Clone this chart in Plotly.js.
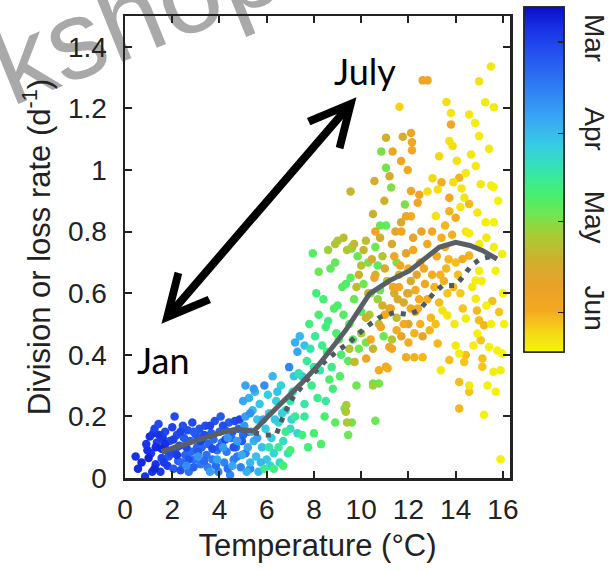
<!DOCTYPE html>
<html>
<head>
<meta charset="utf-8">
<script src="https://cdn.plot.ly/plotly-3.0.1.min.js"></script>
<style>
  html, body { margin: 0; padding: 0; background: #fff; }
  #chart { width: 612px; height: 570px; }
</style>
</head>
<body>
<div id="chart"></div>
<script>
// Daily division/loss rates against water temperature, coloured by sampling date
// (day of year). Each group: temperature (°C), rate (d^-1), day of year.

// early March
const tempA = [0.45,0.55,0.85,0.9,1.05,1.1,1.2,1.25,1.3,1.35, 1.42,1.5,1.55,1.6,1.7,1.75,1.8,1.85,1.9,2.0, 2.05,2.1,2.15,2.2,2.25,2.3,2.4,2.45,2.5,2.55, 2.65,2.7,2.75,2.8,2.85,2.95,3.0,3.05,3.15,3.2, 3.25,3.3,3.4,3.45,3.5,3.55,3.65,3.7,3.75,3.8, 3.9,3.95,4.0,4.05,4.1,4.2,4.25,4.3,4.4,4.45, 4.5,4.6,4.65,4.7,4.8,4.85,4.9,5.0,5.1];
const rateA = [0.07,0.03,0.005,0.11,0.135,0.08,0.145,0.16,0.045,0.115, 0.175,0.02,0.065,0.13,0.15,0.09,0.04,0.07,0.12,0.165, 0.03,0.2,0.095,0.14,0.055,0.105,0.05,0.17,0.13,0.075, 0.155,0.02,0.12,0.085,0.18,0.06,0.14,0.1,0.16,0.045, 0.1,0.125,0.17,0.075,0.035,0.11,0.145,0.06,0.125,0.185, 0.09,0.02,0.15,0.2,0.115,0.05,0.155,0.085,0.18,0.01, 0.13,0.06,0.185,0.1,0.16,0.19,0.035,0.14,0.08];
const dayA  = [55,54,56,57,55,58,56,60,57,59, 62,58,60,57,61,63,59,64,62,60, 66,62,65,63,68,61,70,64,66,69, 63,72,67,70,62,73,65,68,64,74, 70,66,63,72,75,69,67,74,71,64, 73,76,68,66,72,77,70,74,66,78, 71,76,62,73,68,60,77,70,75];

// March, second batch
const tempB = [0.7,0.95,1.15,1.3,1.45,1.65,1.7,1.95,2.05,2.35, 2.35,2.6,2.9,2.9,3.1,3.35,3.35,3.6,3.85,4.0, 4.15,4.35,4.55,4.75,4.95,5.2,5.3,1.0,1.25,1.55, 2.2,2.7,3.2,3.7,4.25,4.6];
const rateB = [0.05,0.09,0.02,0.1,0.14,0.05,0.11,0.08,0.125,0.15, 0.025,0.1,0.15,0.035,0.085,0.055,0.14,0.17,0.04,0.1, 0.17,0.03,0.15,0.07,0.12,0.15,0.03,0.065,0.03,0.095, 0.075,0.06,0.12,0.095,0.125,0.1];
const dayB  = [53,55,57,54,56,58,55,61,59,60, 63,61,66,68,65,70,62,60,71,66, 63,72,65,74,66,68,78,52,53,53, 58,64,59,62,61,64];

// late March - April
const tempC = [2.6,3.1,3.6,3.9,4.15,4.35,4.55,4.75,4.95,5.05, 5.1,5.15,5.2,5.25,5.3,5.35,5.4,5.45,5.5,5.55, 5.6,5.65,5.7,5.8,5.9,5.95,6.0,6.05,6.1,6.2, 6.25,6.3,6.4,6.5,6.55,6.6,6.7,6.8,6.95,7.0, 7.1,7.2,7.3,7.3,7.4,7.5,7.6, 5.1,5.3,5.6,5.75,5.85,6.15,6.35,6.45,6.65,6.9, 7.05,7.15,5.45,5.0];
const rateC = [0.04,0.07,0.02,0.06,0.1,0.13,0.04,0.12,0.075,0.17, 0.3,0.02,0.1,0.26,0.05,0.15,0.22,0.12,0.28,0.07, 0.19,0.02,0.24,0.1,0.3,0.16,0.06,0.27,0.21,0.13, 0.33,0.08,0.25,0.18,0.05,0.3,0.12,0.22,0.36,0.16, 0.28,0.44,0.145,0.41,0.46,0.33,0.43, 0.2,0.21,0.13,0.05,0.19,0.04,0.19,0.28,0.21,0.08, 0.19,0.33,0.29,0.25];
const dayC  = [80,82,84,85,83,81,86,84,87,82, 85,88,86,89,90,88,91,87,90,92, 93,89,94,92,80,95,93,96,97,95, 90,98,96,99,100,97,100,98,78,100, 99,88,97,86,90,95,92, 84,80,84,90,86,98,94,92,96,102, 98,93,83,86];

// April - early May
const tempD = [5.9,6.1,6.3,6.5,6.7,6.8,7.0,7.0,7.2,7.35, 7.5,7.6,7.7,7.8,7.9,7.95,8.0,8.05,8.1,8.2, 8.25,8.3,8.35,8.4,8.5,8.55,8.6,8.7,8.75,8.8, 8.9,8.95,9.0,9.1,9.15,9.2,9.3,9.35,9.45,9.5, 9.6,9.65,9.7,9.8,9.85,10.0,10.2,10.4,10.5,10.6, 10.75,10.8,10.85,11.05,10.95,11.05,10.8,11.27,11.85,12.0, 11.5,8.9,9.6, 7.6,7.75,7.85,8.0,8.15,8.2,8.45,8.5,8.65,8.85, 9.05,9.25,9.45,9.55,9.9,10.1,10.3,10.6,10.7];
const rateD = [0.03,0.1,0.03,0.1,0.04,0.15,0.25,0.09,0.2,0.34, 0.14,0.24,0.38,0.5,0.3,0.73,0.145,0.46,0.6,0.53, 0.35,0.11,0.43,0.58,0.25,0.41,0.51,0.68,0.36,0.29, 0.18,0.47,0.56,0.33,0.4,0.62,0.226,0.63,0.14,0.5, 0.18,0.45,0.58,0.3,0.72,0.54,0.44,0.6,0.307,0.186, 0.307,0.61,1.06,1.007,0.46,0.82,0.82,0.943,0.888,0.6, 0.7,0.7,0.745, 0.2,0.1,0.42,0.36,0.26,0.67,0.2,0.49,0.32,0.55, 0.45,0.53,0.38,0.65,0.42,0.63,0.7,0.75,0.69];
const dayD  = [108,104,110,106,112,108,104,111,106,102, 110,104,106,110,108,114,112,107,110,112, 104,113,108,111,106,112,109,116,108,110, 115,113,111,114,112,115,116,113,118,115, 119,114,117,118,118,116,119,118,117,118, 119,117,120,119,118,116,117,121,120,120, 119,117,118, 106,110,104,106,108,118,112,110,113,114, 116,114,117,116,118,118,119,118,116];

// May
const tempE = [8.6,8.9,9.0,9.25,9.4,9.55,9.6,9.7,9.8,9.9, 10.0,10.1,10.2,10.3,10.35,10.45,10.5,10.56,10.6,10.7, 10.75,10.8,10.9,10.98,11.1,11.2,11.2,11.3,11.3,11.4, 11.5,11.6,11.69,11.76,11.05,11.8,11.9,12.0,12.1,12.2, 12.3,12.5,12.6,9.37,9.35,9.4,10.5,9.72,9.5,10.0, 10.2,10.5,10.9,11.0,11.45,11.55,11.7,11.95,12.35,12.55];
const rateE = [0.74,0.76,0.77,0.78,0.74,0.93,0.75,0.76,0.62,0.66, 0.69,0.74,0.77,0.6,0.53,0.71,0.857,0.964,0.66,0.58, 0.5,0.78,0.72,0.9,0.64,0.98,0.55,0.45,0.76,0.6, 0.52,0.66,0.83,1.108,1.105,0.57,0.73,0.5,0.64,0.78, 0.54,0.7,0.46,0.237,0.215,0.18,0.3,0.377,0.42,0.47, 0.52,0.42,0.56,0.68,0.8,0.58,0.46,0.6,0.66,0.8];
const dayE  = [124,128,126,130,127,132,125,131,130,134, 128,132,130,134,126,136,134,138,132,124, 130,135,128,134,130,136,133,127,138,136, 131,134,137,136,134,138,140,139,137,140, 141,142,140,125,128,126,124,131,128,126, 135,132,136,139,140,138,141,140,142,141];

// late May - early June
const tempF = [10.21,10.4,10.56,10.6,10.75,10.83,11.0,11.05,11.12,11.19, 11.33,11.3,11.4,11.5,11.6,11.69,11.7,11.8,11.9,11.97, 12.0,12.1,12.11,12.15,12.15,12.11,12.11,12.2,12.25,12.3, 12.39,12.4,12.46,12.5,12.6,12.6,12.81,12.7,12.8,12.8, 12.9,13.0,13.0,13.1,13.2,13.24,13.3,13.4,13.5,13.6, 13.73,13.73,13.73,13.8,13.9,14.0,14.0,14.15,14.15,14.15, 14.29,14.36,14.43,14.57,14.57,14.57,14.9,14.99,15.06,15.13, 15.13,15.2,15.55,15.84,13.65,14.2, 11.25,11.35,11.65,11.9,12.0,12.25,12.45,12.65,12.95,13.15, 13.35,13.55,13.7,13.85,13.4,13.55,14.1,14.3];
const rateF = [0.388,0.45,0.65,0.8,0.35,0.49,0.53,0.361,0.356,0.425, 1.06,0.42,0.72,0.48,0.62,1.029,0.8,0.5,0.392,1.0, 0.68,0.55,1.12,1.09,1.064,0.932,0.85,0.74,0.392,0.61, 0.894,0.55,0.92,0.5,0.392,1.291,1.291,0.63,0.58,0.76, 0.48,0.66,0.8,0.62,0.72,0.437,0.57,0.78,0.64,0.68, 0.91,0.866,0.383,1.148,0.62,0.845,0.7,0.975,0.312,0.226, 0.711,0.377,0.399,0.722,0.89,0.28,0.544,0.512,0.447,0.388, 0.361,0.496,0.575,0.539,0.6,0.6, 0.55,0.62,0.69,0.85,0.44,0.47,0.58,0.68,0.52,0.5, 0.66,0.75,0.71,0.79,0.96,0.82,0.66,0.55];
const dayF  = [146,150,148,146,152,149,151,150,152,148, 147,149,150,152,151,148,149,151,152,150, 152,150,146,149,151,150,152,151,153,152, 149,151,148,153,154,147,149,150,152,151, 154,152,150,153,151,154,155,152,153,154, 150,153,155,148,154,152,155,153,155,154, 152,156,155,153,154,156,154,155,156,155, 156,154,155,156,156,157, 146,148,150,149,152,153,152,151,154,155, 153,152,154,153,152,154,155,156];

// mid June
const tempG = [11.62,12.81,13.02,13.16,13.24,13.3,13.44,13.37,13.61,13.65, 13.73,13.8,13.87,14.0,14.15,14.2,14.37,14.43,14.43,14.43, 14.57,14.57,14.57,14.82,14.85,14.85,14.85,14.92,14.92,14.99, 14.99,14.99,15.0,15.06,15.2,15.27,15.3,15.41,15.41,15.49, 15.5,15.6,15.6,15.62,15.62,15.62,15.69,15.76,15.9,15.9, 15.97,15.97,16.0,16.05, 13.9,14.05,14.25,14.7,15.1,15.3,15.5,15.7,15.35,14.75, 13.95,14.65,15.8,15.25];
const rateG = [1.205,0.93,0.973,0.851,0.937,1.045,0.544,0.35,1.221,0.528, 1.094,1.185,1.078,0.43,0.404,0.88,0.91,0.99,0.8,0.518, 0.795,1.18,0.3,1.153,1.013,0.641,0.582,0.862,0.469,1.288, 1.11,0.673,0.76,0.954,0.205,0.83,0.78,1.069,0.425,1.336, 0.95,0.945,0.345,1.204,0.83,0.75,0.673,0.414,0.35,0.061, 0.727,0.404,0.6,0.5, 0.96,1.03,0.94,0.62,0.64,0.56,0.5,0.28,0.3,0.43, 0.5,1.05,0.9,1.22];
const dayG  = [158,160,159,161,160,159,162,163,160,162, 161,162,160,163,164,162,161,163,162,164, 163,162,163,164,163,164,163,162,165,161, 163,164,163,162,165,164,163,163,165,162, 164,165,164,163,165,164,165,165,164,165, 164,165,165,165, 160,161,162,163,164,165,164,165,165,164, 163,162,165,163];

// Binned mean rates (solid) and binned loss rates (dotted)
const meanTemp = [1.55,2.8,4.2,4.8,5.45,6.05,6.9,7.5,8.25,9.35,10.35,11.2,12.05,12.75,13.3,14.0,14.6,15.15,15.75];
const meanRate = [0.086,0.118,0.15,0.158,0.152,0.2,0.264,0.31,0.372,0.48,0.598,0.641,0.673,0.716,0.749,0.765,0.755,0.738,0.711];
const lossTemp = [1.55,2.8,4.2,4.8,5.45,5.9,6.4,6.75,7.1,7.7,8.45,8.95,9.5,10.2,10.8,11.4,12.0,12.45,12.75,13.1,13.45,14.0,14.35,14.65,15.05,15.65];
const lossRate = [0.086,0.118,0.15,0.158,0.145,0.14,0.14,0.21,0.26,0.318,0.377,0.41,0.44,0.49,0.522,0.537,0.53,0.545,0.571,0.603,0.625,0.625,0.657,0.69,0.711,0.722];

// Axis ticks and colour-bar month markers (day of year of the 1st)
const xTicks = [0,2,4,6,8,10,12,14,16];
const yTicks = [0,0.2,0.4,0.6,0.8,1,1.2,1.4];
const yTickText = ['0','0.2','0.4','0.6','0.8','1','1.2','1.4'];
const monthDays = [60,91,121,152];
const monthNames = ['Mar','Apr','May','Jun'];
const dayRange = [48,165.5];

const temps = [].concat(tempA,tempB,tempC,tempD,tempE,tempF,tempG);
const rates = [].concat(rateA,rateB,rateC,rateD,rateE,rateF,rateG);
const days  = [].concat(dayA,dayB,dayC,dayD,dayE,dayF,dayG);

// Colour bar runs early (top) to late (bottom): colour by negated day
const dateScale = [
  [0,'#f4f40c'],[0.05,'#f5dc14'],[0.12,'#f4a820'],[0.2,'#e8a22a'],[0.28,'#c8b42e'],
  [0.34,'#a8cc34'],[0.4,'#6ee650'],[0.46,'#44f070'],[0.53,'#34e4b0'],[0.6,'#36cce4'],
  [0.67,'#38aaf2'],[0.76,'#3080f4'],[0.86,'#2454f0'],[0.94,'#1830e4'],[1,'#0a10c4']
];

// shared colour bar geometry (fractions of the plot area)
const barBase = {
  x: 1.036, xanchor: 'left', y: 1.0195, yanchor: 'top',
  len: 0.747, lenmode: 'fraction', thickness: 40, thicknessmode: 'pixels',
  xpad: 0, ypad: 0, outlinewidth: 1.5, outlinecolor: '#222', borderwidth: 0,
  tickmode: 'array', tickvals: monthDays.map(d => -d)
};

const points = {
  type: 'scatter', mode: 'markers', x: temps, y: rates, hoverinfo: 'skip',
  marker: {
    size: 8.5, color: days.map(d => -d), colorscale: dateScale,
    cmin: -dayRange[1], cmax: -dayRange[0], line: {width: 0},
    // month names, set off from the bar
    colorbar: Object.assign({}, barBase, {
      ticktext: monthNames, ticks: 'outside', ticklen: 10, tickcolor: 'rgba(0,0,0,0)',
      tickangle: 90, tickfont: {size: 28, color: '#222'}
    })
  }
};
// second bar on top carrying the short inward month ticks
const monthTicks = {
  type: 'scatter', mode: 'markers', x: [null], y: [null], hoverinfo: 'skip',
  marker: {
    color: [-monthDays[0]], colorscale: dateScale,
    cmin: -dayRange[1], cmax: -dayRange[0],
    colorbar: Object.assign({}, barBase, {
      showticklabels: false, ticks: 'inside', ticklen: 6, tickwidth: 1.5, tickcolor: '#222'
    })
  }
};
const lossLine = {
  type: 'scatter', mode: 'lines', x: lossTemp, y: lossRate, hoverinfo: 'skip',
  line: {color: '#4e5a63', width: 5, dash: '5px,7px'}
};
const meanLine = {
  type: 'scatter', mode: 'lines', x: meanTemp, y: meanRate, hoverinfo: 'skip',
  line: {color: '#596065', width: 5}
};

const axisStyle = {
  showline: true, linecolor: '#222', linewidth: 2.5, mirror: 'ticks',
  ticks: 'inside', ticklen: 7, tickwidth: 2, tickcolor: '#222',
  showgrid: false, zeroline: false, tickfont: {size: 28, color: '#222'}
};

const layout = {
  width: 612, height: 570,
  margin: {l: 125, r: 102, t: 16, b: 92, pad: 0, autoexpand: false},
  paper_bgcolor: '#fff', plot_bgcolor: '#fff',
  font: {family: '"Liberation Sans", Arial, sans-serif', color: '#222'},
  showlegend: false,
  xaxis: Object.assign({}, axisStyle, {
    range: [0, 16.3], tickmode: 'array', tickvals: xTicks, ticklabelstandoff: 5,
    title: {text: 'Temperature (°C)', font: {size: 31, color: '#222'}, standoff: 10}
  }),
  yaxis: Object.assign({}, axisStyle, {
    range: [0, 1.5], tickmode: 'array', tickvals: yTicks, ticktext: yTickText, ticklabelstandoff: 10,
    title: {text: 'Division or loss rate (d<sup>-1</sup>)', font: {size: 31, color: '#222'}, standoff: 8}
  }),
  annotations: [
    {x: 9.8, y: 1.236, ax: 1.49, ay: 0.496, xref: 'x', yref: 'y', axref: 'x', ayref: 'y',
     text: '', showarrow: true, arrowside: 'end+start', arrowhead: 5, startarrowhead: 5,
     arrowsize: 1, startarrowsize: 1, arrowwidth: 8, arrowcolor: '#000'},
    {x: 10.15, y: 1.322, xref: 'x', yref: 'y', text: 'July', showarrow: false,
     font: {family: 'Lato, "Open Sans", sans-serif', size: 36, color: '#000'}},
    {x: 1.62, y: 0.383, xref: 'x', yref: 'y', text: 'Jan', showarrow: false,
     font: {family: 'Lato, "Open Sans", sans-serif', size: 36, color: '#000'}}
  ],
  // faint stamp across the upper-left corner, running off the page edge,
  // kept beneath the axis labels
  shapes: [
    {type: 'line', xref: 'paper', yref: 'paper', x0: -0.4694, y0: 0.8604, x1: 0.0122, y1: 1.0227,
     line: {width: 0, color: 'rgba(0,0,0,0)'}, layer: 'below',
     label: {text: 'Workshop', textangle: 'auto', textposition: 'middle', xanchor: 'center', yanchor: 'middle',
             font: {family: '"Liberation Sans", Arial, sans-serif', size: 112, color: 'rgba(150,150,150,0.82)'}}}
  ]
};

Plotly.newPlot('chart', [points, monthTicks, lossLine, meanLine], layout, {displayModeBar: false, staticPlot: true});
</script>
</body>
</html>
